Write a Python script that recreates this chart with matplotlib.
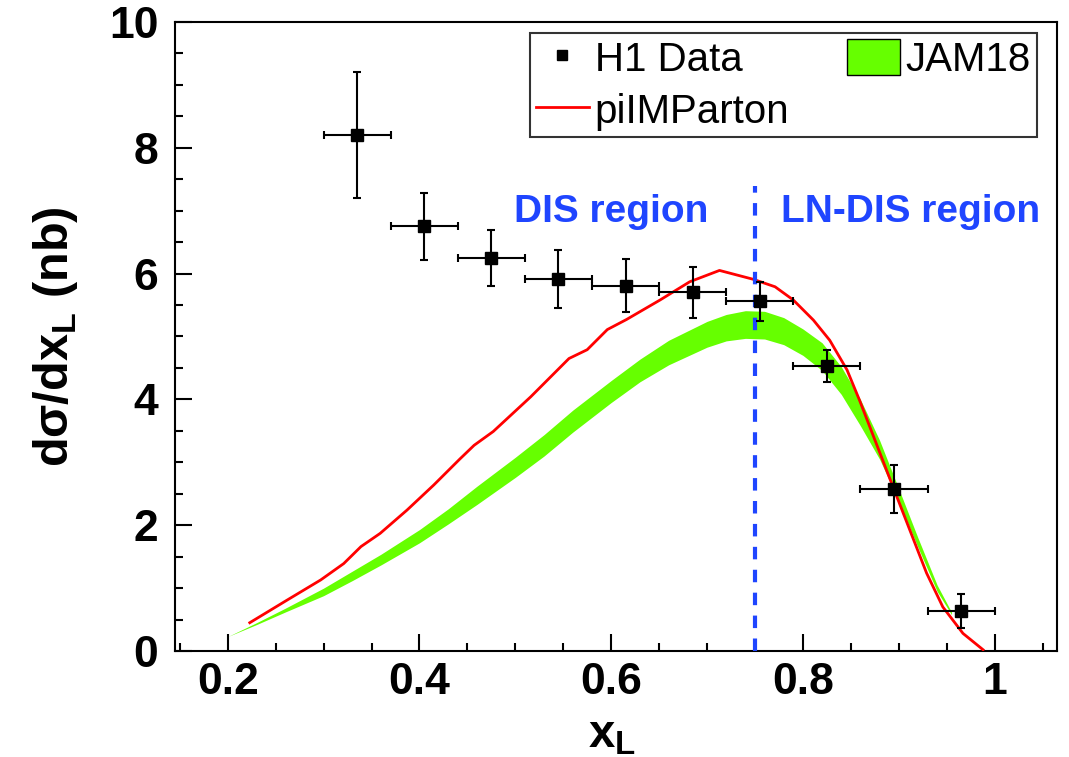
import numpy as np
import matplotlib
matplotlib.use('Agg')
import matplotlib.pyplot as plt
from matplotlib.patches import Patch
from matplotlib.lines import Line2D
from matplotlib.ticker import MultipleLocator

plt.rcParams['font.family'] = ['Liberation Sans', 'DejaVu Sans']
plt.rcParams['mathtext.fontset'] = 'custom'
plt.rcParams['mathtext.rm'] = 'Liberation Sans'
plt.rcParams['mathtext.bf'] = 'Liberation Sans:bold'

# H1 data points (bin centres, values, errors)
h1_x = [0.335, 0.405, 0.475, 0.545, 0.615, 0.685, 0.755, 0.825, 0.895, 0.965]
h1_y = [8.20, 6.75, 6.25, 5.91, 5.81, 5.70, 5.56, 4.53, 2.57, 0.63]
h1_yerr = [1.00, 0.53, 0.45, 0.46, 0.42, 0.40, 0.31, 0.25, 0.38, 0.27]
h1_xerr = [0.035] * 10

# JAM18 uncertainty band
jam_x = [0.20, 0.23, 0.26, 0.30, 0.33, 0.36, 0.40, 0.43, 0.46, 0.50,
         0.53, 0.56, 0.60, 0.63, 0.66, 0.70, 0.72, 0.74, 0.76, 0.78,
         0.80, 0.82, 0.84, 0.86, 0.88, 0.90, 0.92, 0.94, 0.955]
jam_hi = [0.23, 0.45, 0.68, 1.00, 1.27, 1.54, 1.93, 2.26, 2.62, 3.08,
          3.44, 3.83, 4.30, 4.64, 4.94, 5.24, 5.35, 5.41, 5.40, 5.30,
          5.12, 4.90, 4.52, 4.00, 3.35, 2.58, 1.80, 1.05, 0.62]
jam_lo = [0.23, 0.42, 0.62, 0.88, 1.12, 1.37, 1.72, 2.02, 2.33, 2.76,
          3.10, 3.48, 3.95, 4.28, 4.55, 4.83, 4.93, 4.97, 4.96, 4.87,
          4.70, 4.46, 4.08, 3.58, 3.05, 2.38, 1.65, 0.95, 0.58]

# piIMParton curve
pim_x = [0.223, 0.262, 0.297, 0.321, 0.339, 0.359, 0.387, 0.415, 0.442, 0.457,
         0.477, 0.516, 0.556, 0.575, 0.596, 0.616, 0.651, 0.682, 0.713, 0.748,
         0.771, 0.790, 0.811, 0.828, 0.846, 0.859, 0.894, 0.929, 0.946, 0.967, 0.988]
pim_y = [0.45, 0.81, 1.13, 1.39, 1.66, 1.87, 2.24, 2.64, 3.05, 3.27,
         3.49, 4.04, 4.65, 4.79, 5.11, 5.27, 5.58, 5.87, 6.05, 5.91,
         5.79, 5.58, 5.26, 4.94, 4.47, 3.99, 2.61, 1.24, 0.70, 0.28, 0.02]

dis_cut = 0.75
cut_top = 7.4

green = '#66ff00'
blue = '#1f45ff'

fig = plt.figure(figsize=(10.69, 7.57), dpi=100)
ax = fig.add_axes([0.1637, 0.140, 0.825, 0.831])

ax.fill_between(jam_x, jam_lo, jam_hi, color=green, lw=0, zorder=2)
ax.plot(pim_x, pim_y, color='#ff0000', lw=2, zorder=3)
ax.errorbar(h1_x, h1_y, xerr=h1_xerr, yerr=h1_yerr, fmt='s', color='black',
            ms=8, elinewidth=1.5, capsize=3, capthick=1.5, zorder=5)
ax.plot([dis_cut, dis_cut], [0, cut_top], color=blue, lw=3,
        dashes=(3, 2.5), zorder=4)

ax.text(0.60, 6.98, 'DIS region', color=blue, fontsize=28, fontweight='bold',
        ha='center', va='center')
ax.text(0.777, 6.98, 'LN-DIS region', color=blue, fontsize=28, fontweight='bold',
        ha='left', va='center')

ax.set_xlim(0.145, 1.065)
ax.set_ylim(0, 10)
ax.xaxis.set_minor_locator(MultipleLocator(0.05))
ax.yaxis.set_major_locator(MultipleLocator(2))
ax.yaxis.set_minor_locator(MultipleLocator(0.5))
ax.set_xticks([0.2, 0.4, 0.6, 0.8, 1.0])
ax.set_xticklabels(['0.2', '0.4', '0.6', '0.8', '1'])
ax.tick_params(which='both', direction='in', top=False, right=False,
               width=1.5, labelsize=32)
ax.tick_params(which='major', length=12)
ax.tick_params(which='minor', length=6)
ax.tick_params(axis='x', pad=8)
ax.tick_params(axis='y', pad=12)
for lab in ax.get_xticklabels() + ax.get_yticklabels():
    lab.set_fontweight('bold')
for sp in ax.spines.values():
    sp.set_linewidth(1.5)

ax.set_xlabel(r'x$_\mathbf{L}$', fontsize=34, fontweight='bold', va='center')
ax.set_ylabel(r'dσ/dx$_\mathbf{L}$ (nb)', fontsize=35, fontweight='bold', va='center')
ax.xaxis.set_label_coords(0.495, -0.135)
ax.yaxis.set_label_coords(-0.136, 0.5)

handles = [
    Line2D([], [], marker='s', color='black', ls='none', ms=7),
    Line2D([], [], color='#ff0000', lw=2),
    Patch(facecolor=green, edgecolor='black', lw=1),
]
labels = ['H1 Data', 'piIMParton', 'JAM18']
leg = ax.legend(handles, labels, ncol=2, loc='upper left',
                bbox_to_anchor=(0.496, 0.827, 0.474, 0.129),
                bbox_transform=fig.transFigure, mode='expand',
                fontsize=29, frameon=True, fancybox=False, borderpad=0.15,
                labelspacing=0.3, handlelength=1.3, handleheight=1.0,
                handletextpad=0.15, columnspacing=0.5, borderaxespad=0)
leg.get_frame().set_edgecolor('black')
leg.get_frame().set_linewidth(1.5)

fig.savefig('out.png', dpi=100)
